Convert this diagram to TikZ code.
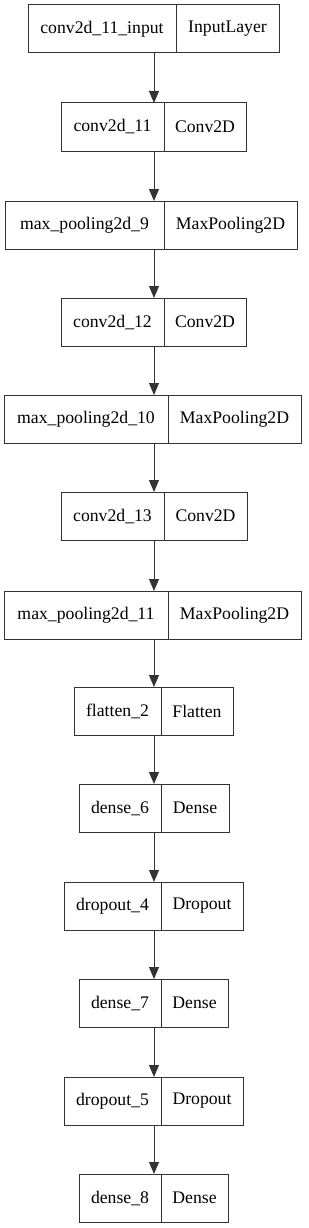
\documentclass[tikz,border=0pt]{standalone}
\usepackage{fontspec}
\setmainfont{Liberation Serif}
\usepackage{xcolor}
\usetikzlibrary{arrows.meta, positioning}
\definecolor{kline}{HTML}{333333}

\begin{document}
\begin{tikzpicture}[
    x=1pt, y=-1pt,
    font=\fontsize{17.7}{20}\selectfont,
    cell/.style={draw=kline, line width=1pt, minimum height=48pt, inner sep=0pt, outer sep=0pt, anchor=north west},
    kind/.style={draw=kline, line width=1pt, minimum height=48pt, inner sep=0pt, outer sep=0pt, right=0pt of #1},
    arr/.style={draw=kline, line width=1pt, -{Triangle[width=10pt,length=12pt]}},
  ]
    \useasboundingbox (0,0) rectangle (308,1228);
    \coordinate (ax) at (154,0);
    \node[cell, minimum width=148pt] (inp) at (28,5) {conv2d\_11\_input};
    \node[kind=inp, minimum width=103pt] (inpT) {InputLayer};
    \node[cell, minimum width=103pt] (c11) at (61,103) {conv2d\_11};
    \node[kind=c11, minimum width=82pt] (c11T) {Conv2D};
    \node[cell, minimum width=159pt] (mp9) at (5,201) {max\_pooling2d\_9};
    \node[kind=mp9, minimum width=133pt] (mp9T) {MaxPooling2D};
    \node[cell, minimum width=103pt] (c12) at (61,298) {conv2d\_12};
    \node[kind=c12, minimum width=82pt] (c12T) {Conv2D};
    \node[cell, minimum width=164pt] (mp10) at (4,395) {max\_pooling2d\_10};
    \node[kind=mp10, minimum width=133pt] (mp10T) {MaxPooling2D};
    \node[cell, minimum width=103pt] (c13) at (61,492) {conv2d\_13};
    \node[kind=c13, minimum width=83pt] (c13T) {Conv2D};
    \node[cell, minimum width=164pt] (mp11) at (4,591) {max\_pooling2d\_11};
    \node[kind=mp11, minimum width=133pt] (mp11T) {MaxPooling2D};
    \node[cell, minimum width=87pt] (fl2) at (74,687) {flatten\_2};
    \node[kind=fl2, minimum width=72pt] (fl2T) {Flatten};
    \node[cell, minimum width=82pt] (d6) at (79,784) {dense\_6};
    \node[kind=d6, minimum width=68pt] (d6T) {Dense};
    \node[cell, minimum width=97pt] (do4) at (64,882) {dropout\_4};
    \node[kind=do4, minimum width=82pt] (do4T) {Dropout};
    \node[cell, minimum width=82pt] (d7) at (79,979) {dense\_7};
    \node[kind=d7, minimum width=67pt] (d7T) {Dense};
    \node[cell, minimum width=97pt] (do5) at (64,1077) {dropout\_5};
    \node[kind=do5, minimum width=82pt] (do5T) {Dropout};
    \node[cell, minimum width=82pt] (d8) at (79,1174) {dense\_8};
    \node[kind=d8, minimum width=67pt] (d8T) {Dense};

    \draw[arr] (inp.south -| ax) -- (c11.north -| ax);
    \draw[arr] (c11.south -| ax) -- (mp9.north -| ax);
    \draw[arr] (mp9.south -| ax) -- (c12.north -| ax);
    \draw[arr] (c12.south -| ax) -- (mp10.north -| ax);
    \draw[arr] (mp10.south -| ax) -- (c13.north -| ax);
    \draw[arr] (c13.south -| ax) -- (mp11.north -| ax);
    \draw[arr] (mp11.south -| ax) -- (fl2.north -| ax);
    \draw[arr] (fl2.south -| ax) -- (d6.north -| ax);
    \draw[arr] (d6.south -| ax) -- (do4.north -| ax);
    \draw[arr] (do4.south -| ax) -- (d7.north -| ax);
    \draw[arr] (d7.south -| ax) -- (do5.north -| ax);
    \draw[arr] (do5.south -| ax) -- (d8.north -| ax);
  \end{tikzpicture}
\end{document}
